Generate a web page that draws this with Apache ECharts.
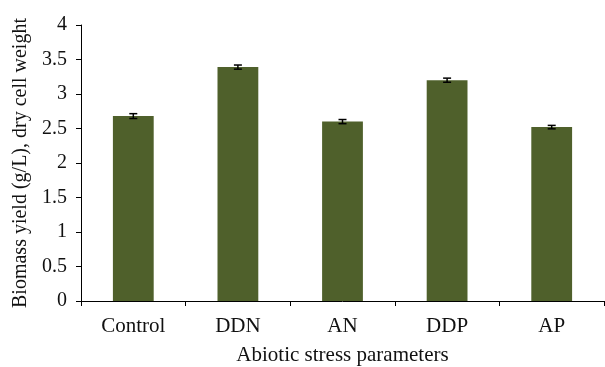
<!DOCTYPE html>
<html><head><meta charset="utf-8">
<script src="https://cdn.jsdelivr.net/npm/echarts@6/dist/echarts.min.js"></script>
<style>html,body{margin:0;padding:0;background:#fff}#c{width:605px;height:367px}</style>
</head><body><div id="c"></div>
<script>
var categories = ['Control', 'DDN', 'AN', 'DDP', 'AP'];
var biomass = [2.68, 3.39, 2.60, 3.20, 2.52];
var errors = [0.035, 0.03, 0.03, 0.03, 0.025];
var yTicks = [0, 0.5, 1, 1.5, 2, 2.5, 3, 3.5, 4];

var font = 'Liberation Serif';
var chart = echarts.init(document.getElementById('c'));
var errData = categories.map(function (c, i) { return [i, biomass[i] - errors[i], biomass[i] + errors[i]]; });
chart.setOption({
  animation: false,
  grid: { left: 81, right: 1, top: 25, bottom: 66, containLabel: false, outerBoundsMode: 'none' },
  xAxis: {
    type: 'category', data: categories,
    name: 'Abiotic stress parameters', nameLocation: 'middle', nameGap: 44,
    nameTextStyle: { fontFamily: font, fontSize: 21, color: '#111' },
    axisLine: { lineStyle: { color: '#000', width: 1 } },
    axisTick: { show: true, length: 5, lineStyle: { color: '#000' } },
    axisLabel: { fontFamily: font, fontSize: 21, color: '#111', margin: 15 }
  },
  yAxis: {
    type: 'value', min: 0, max: 4, interval: 0.5,
    name: 'Biomass yield (g/L), dry cell weight', nameLocation: 'middle', nameGap: 49,
    nameTextStyle: { fontFamily: font, fontSize: 20, color: '#111' },
    axisLine: { show: true, lineStyle: { color: '#000', width: 1 } },
    axisTick: { show: true, length: 5, lineStyle: { color: '#000' } },
    splitLine: { show: false },
    axisLabel: { fontFamily: font, fontSize: 20, color: '#111', margin: 14,
      formatter: function (v) { return yTicks.indexOf(v) >= 0 ? String(v) : ''; } }
  },
  series: [
    { type: 'bar', data: biomass, barWidth: '39%', itemStyle: { color: '#4f602b' } },
    { type: 'custom', data: errData, z: 10,
      renderItem: function (params, api) {
        var x = api.value(0);
        var lo = api.coord([x, api.value(1)]);
        var hi = api.coord([x, api.value(2)]);
        var w = 4;
        var st = { stroke: '#000', lineWidth: 1.5 };
        return { type: 'group', children: [
          { type: 'line', shape: { x1: hi[0], y1: hi[1], x2: lo[0], y2: lo[1] }, style: st },
          { type: 'line', shape: { x1: hi[0] - w, y1: hi[1], x2: hi[0] + w, y2: hi[1] }, style: st },
          { type: 'line', shape: { x1: lo[0] - w, y1: lo[1], x2: lo[0] + w, y2: lo[1] }, style: st }
        ] };
      }
    }
  ]
});
</script></body></html>
